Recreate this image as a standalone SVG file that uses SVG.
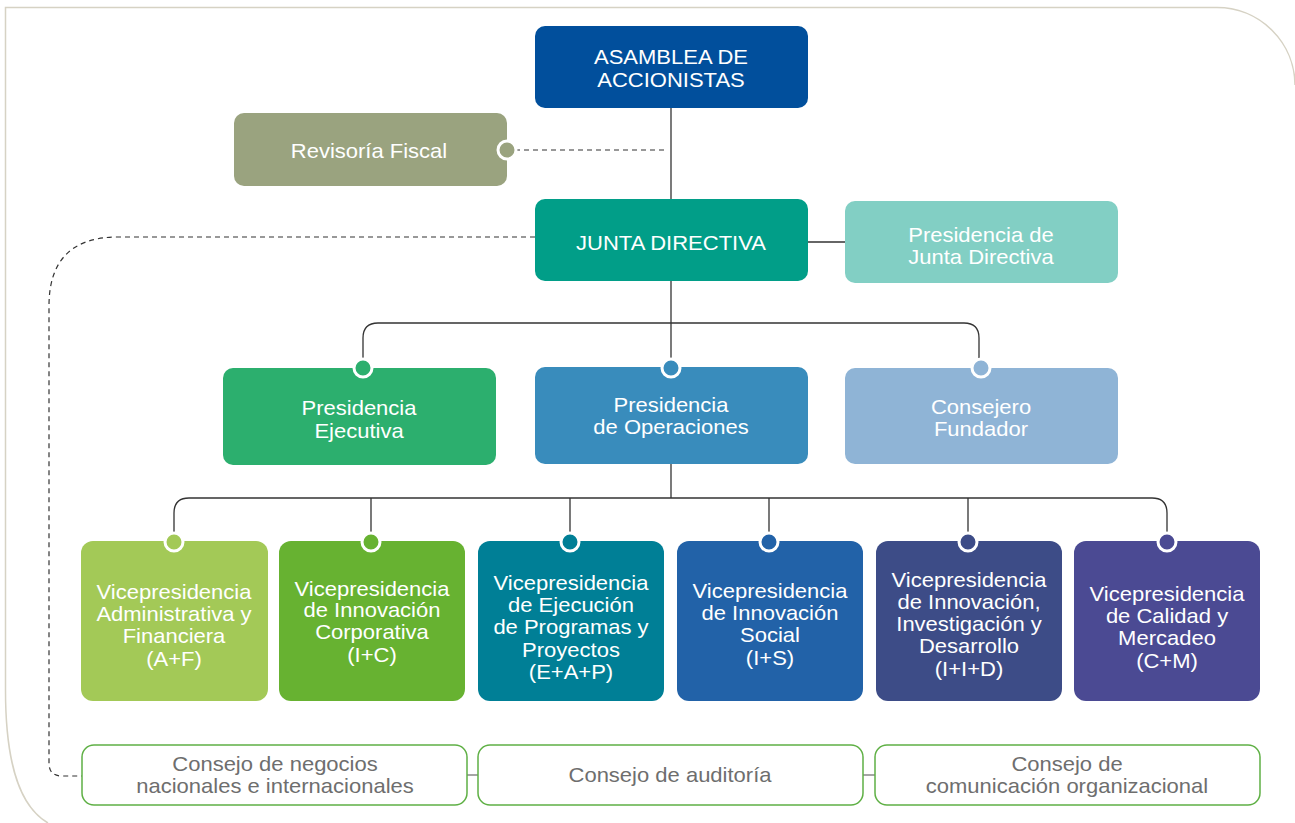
<svg xmlns="http://www.w3.org/2000/svg" width="1295" height="823" viewBox="0 0 1295 823">
<style>
.t{font-family:"Liberation Sans",Arial,sans-serif;font-size:20px;fill:#fff;text-anchor:middle}
.g{fill:#6e6e6e}
.ln{fill:none;stroke:#333;stroke-width:1.3}
.ds{fill:none;stroke:#333;stroke-width:1.2;stroke-dasharray:5 4}
.dot{stroke:#fff;stroke-width:3}
.cs{fill:#fff;stroke:#5fb045;stroke-width:1.5}
</style>
<rect width="1295" height="823" fill="#fff"/>
<path d="M48,823 C22,808 5.5,770 5.5,690 V7.5 H1217 A78,78 0 0 1 1295,85" fill="none" stroke="#d6d2c4" stroke-width="1.5"/>
<g id="connectors">
<path class="ln" d="M671,108 V199"/>
<path class="ds" d="M515,150 H668"/>
<path class="ln" d="M808,242 H845"/>
<path class="ln" d="M671,281 V367"/>
<path class="ln" d="M363,368 V338 Q363,323 378,323 H964 Q979,323 979,338 V368"/>
<path class="ln" d="M671,464 V498"/>
<path class="ln" d="M174,541 V513 Q174,498 189,498 H1152 Q1167,498 1167,513 V541"/>
<path class="ln" d="M371,498 V541 M570,498 V541 M769,498 V541 M968,498 V541"/>
<path class="ds" d="M535,237 H118 Q49,237 49,306 V763 Q49,776 62,776 H82"/>
<path d="M467,775 H478 M863,775 H875" stroke="#888" stroke-width="1.5"/>
</g>
<g id="asamblea">
<rect x="535" y="26" width="273" height="82" rx="10" fill="#014f9c"/>
<text class="t" transform="translate(671,64) scale(1.1,1)">ASAMBLEA DE</text>
<text class="t" transform="translate(671,87) scale(1.1,1)">ACCIONISTAS</text>
</g>
<g id="revisoria">
<rect x="234" y="113" width="273" height="73" rx="10" fill="#9aa37f"/>
<text class="t" transform="translate(369,158) scale(1.1,1)">Revisoría Fiscal</text>
<circle class="dot" cx="507" cy="150" r="9" fill="#9aa37f"/>
</g>
<g id="junta">
<rect x="535" y="199" width="273" height="82" rx="10" fill="#019e88"/>
<text class="t" transform="translate(671,250) scale(1.1,1)">JUNTA DIRECTIVA</text>
</g>
<g id="pres-junta">
<rect x="845" y="201" width="273" height="82" rx="10" fill="#82cfc4"/>
<text class="t" transform="translate(981,242) scale(1.1,1)">Presidencia de</text>
<text class="t" transform="translate(981,264) scale(1.1,1)">Junta Directiva</text>
</g>
<g id="pres-ejecutiva">
<rect x="223" y="368" width="273" height="97" rx="10" fill="#2caf6e"/>
<text class="t" transform="translate(359,415) scale(1.1,1)">Presidencia</text>
<text class="t" transform="translate(359,438) scale(1.1,1)">Ejecutiva</text>
<circle class="dot" cx="363" cy="368" r="9" fill="#2caf6e"/>
</g>
<g id="pres-operaciones">
<rect x="535" y="367" width="273" height="97" rx="10" fill="#398cbc"/>
<text class="t" transform="translate(671,412) scale(1.1,1)">Presidencia</text>
<text class="t" transform="translate(671,434) scale(1.1,1)">de Operaciones</text>
<circle class="dot" cx="671" cy="368" r="9" fill="#398cbc"/>
</g>
<g id="consejero">
<rect x="845" y="368" width="273" height="96" rx="10" fill="#8fb4d6"/>
<text class="t" transform="translate(981,414) scale(1.1,1)">Consejero</text>
<text class="t" transform="translate(981,436) scale(1.1,1)">Fundador</text>
<circle class="dot" cx="981" cy="368" r="9" fill="#8fb4d6"/>
</g>
<g id="vp-af">
<rect x="81" y="541" width="187" height="160" rx="12" fill="#a3c957"/>
<text class="t" transform="translate(174,599) scale(1.1,1)">Vicepresidencia</text>
<text class="t" transform="translate(174,621) scale(1.1,1)">Administrativa y</text>
<text class="t" transform="translate(174,643) scale(1.1,1)">Financiera</text>
<text class="t" transform="translate(174,666) scale(1.1,1)">(A+F)</text>
<circle class="dot" cx="174" cy="542" r="9" fill="#a3c957"/>
</g>
<g id="vp-ic">
<rect x="279" y="541" width="186" height="160" rx="12" fill="#67b231"/>
<text class="t" transform="translate(372,596) scale(1.1,1)">Vicepresidencia</text>
<text class="t" transform="translate(372,617) scale(1.1,1)">de Innovación</text>
<text class="t" transform="translate(372,639) scale(1.1,1)">Corporativa</text>
<text class="t" transform="translate(372,662) scale(1.1,1)">(I+C)</text>
<circle class="dot" cx="371" cy="542" r="9" fill="#67b231"/>
</g>
<g id="vp-eap">
<rect x="478" y="541" width="186" height="160" rx="12" fill="#007f96"/>
<text class="t" transform="translate(571,590) scale(1.1,1)">Vicepresidencia</text>
<text class="t" transform="translate(571,612) scale(1.1,1)">de Ejecución</text>
<text class="t" transform="translate(571,634) scale(1.1,1)">de Programas y</text>
<text class="t" transform="translate(571,657) scale(1.1,1)">Proyectos</text>
<text class="t" transform="translate(571,679) scale(1.1,1)">(E+A+P)</text>
<circle class="dot" cx="570" cy="542" r="9" fill="#007f96"/>
</g>
<g id="vp-is">
<rect x="677" y="541" width="186" height="160" rx="12" fill="#2262a8"/>
<text class="t" transform="translate(770,598) scale(1.1,1)">Vicepresidencia</text>
<text class="t" transform="translate(770,620) scale(1.1,1)">de Innovación</text>
<text class="t" transform="translate(770,642) scale(1.1,1)">Social</text>
<text class="t" transform="translate(770,665) scale(1.1,1)">(I+S)</text>
<circle class="dot" cx="769" cy="542" r="9" fill="#2262a8"/>
</g>
<g id="vp-iid">
<rect x="876" y="541" width="186" height="160" rx="12" fill="#3d4c87"/>
<text class="t" transform="translate(969,587) scale(1.1,1)">Vicepresidencia</text>
<text class="t" transform="translate(969,609) scale(1.1,1)">de Innovación,</text>
<text class="t" transform="translate(969,631) scale(1.1,1)">Investigación y</text>
<text class="t" transform="translate(969,653) scale(1.1,1)">Desarrollo</text>
<text class="t" transform="translate(969,676) scale(1.1,1)">(I+I+D)</text>
<circle class="dot" cx="968" cy="542" r="9" fill="#3d4c87"/>
</g>
<g id="vp-cm">
<rect x="1074" y="541" width="186" height="160" rx="12" fill="#4b4a93"/>
<text class="t" transform="translate(1167,601) scale(1.1,1)">Vicepresidencia</text>
<text class="t" transform="translate(1167,623) scale(1.1,1)">de Calidad y</text>
<text class="t" transform="translate(1167,645) scale(1.1,1)">Mercadeo</text>
<text class="t" transform="translate(1167,668) scale(1.1,1)">(C+M)</text>
<circle class="dot" cx="1167" cy="542" r="9" fill="#4b4a93"/>
</g>
<g id="consejo-negocios">
<rect class="cs" x="82" y="745" width="385" height="60" rx="12"/>
<text class="t g" transform="translate(275,771) scale(1.1,1)">Consejo de negocios</text>
<text class="t g" transform="translate(275,793) scale(1.1,1)">nacionales e internacionales</text>
</g>
<g id="consejo-auditoria">
<rect class="cs" x="478" y="745" width="385" height="60" rx="12"/>
<text class="t g" transform="translate(670,782) scale(1.1,1)">Consejo de auditoría</text>
</g>
<g id="consejo-comunicacion">
<rect class="cs" x="875" y="745" width="385" height="60" rx="12"/>
<text class="t g" transform="translate(1067,771) scale(1.1,1)">Consejo de</text>
<text class="t g" transform="translate(1067,793) scale(1.1,1)">comunicación organizacional</text>
</g>
</svg>
